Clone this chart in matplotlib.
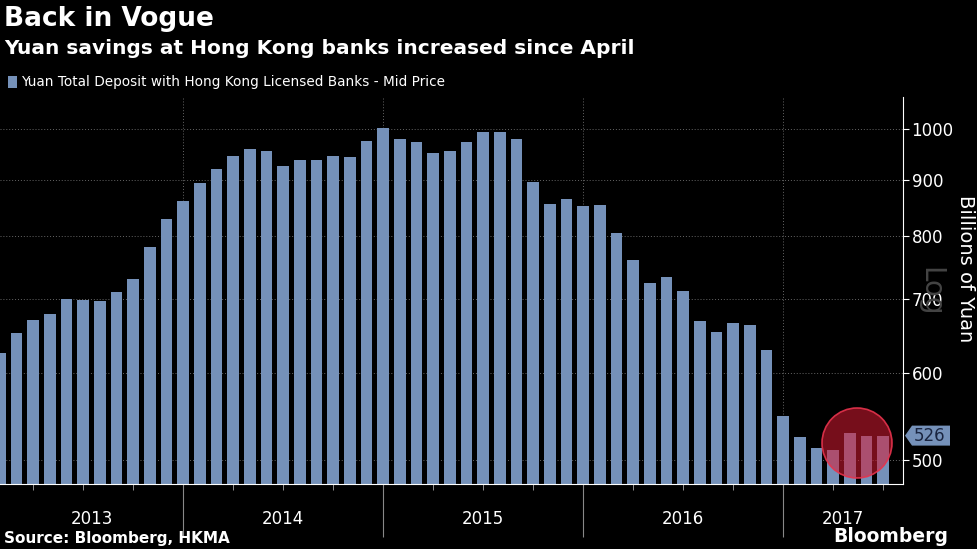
import matplotlib
matplotlib.use("Agg")
import matplotlib.pyplot as plt
from matplotlib.patches import Circle, Polygon
import numpy as np

values = [625, 653, 670, 679, 700, 699, 697, 711, 730, 782, 828, 861,
          894, 921, 945, 959, 956, 926, 937, 937, 945, 943, 976, 1004,
          981, 974, 952, 955, 974, 994, 994, 980, 896, 855, 865, 852,
          853, 805, 760, 725, 733, 712, 669, 654, 666, 664, 629, 548,
          524, 513, 510, 529, 526, 526]
years = ["2013", "2014", "2015", "2016", "2017"]
yticks = [500, 600, 700, 800, 900, 1000]
last_value = 526

BAR = "#7591b9"
fig = plt.figure(figsize=(9.77, 5.49), dpi=100, facecolor="black")
ax = fig.add_axes([0.0, 0.118, 0.9245, 0.705], facecolor="black")
x = np.arange(len(values))
ax.bar(x, values, width=0.7, color=BAR, zorder=2)
ax.set_yscale("log")
ax.set_ylim(475, 1070)
ax.set_xlim(0, 54.2)
ax.yaxis.tick_right()
ax.set_yticks(yticks)
ax.set_yticklabels([str(v) for v in yticks], color="white", fontsize=12)
ax.yaxis.set_minor_locator(matplotlib.ticker.NullLocator())
ax.tick_params(axis="y", colors="white", length=4, pad=2, labelsize=12)
for v in yticks:
    ax.axhline(v, color="#666666", lw=0.7, ls=(0, (1, 2)), zorder=1)
bounds = [11, 23, 35, 47]
for b in bounds:
    ax.axvline(b, color="#666666", lw=0.7, ls=(0, (1, 2)), zorder=1)
ax.set_xticks(bounds)
ax.set_xticklabels([])
ax.tick_params(axis="x", which="major", length=38, color="#888888", width=0.8)
ax.set_xticks([2, 5, 8, 14, 17, 20, 26, 29, 32, 38, 41, 44, 50, 53], minor=True)
ax.tick_params(axis="x", which="minor", length=4, color="#aaaaaa")
edges = [0] + bounds + [54.2]
for i, yr in enumerate(years):
    ax.text((edges[i] + edges[i + 1]) / 2, -0.09, yr, transform=ax.get_xaxis_transform(),
            ha="center", va="center", color="white", fontsize=12)
for s in ["top", "left"]:
    ax.spines[s].set_visible(False)
ax.spines["bottom"].set_color("white")
ax.spines["right"].set_color("white")

# highlight circle (pixel space)
circ = Circle((857, 549 - 443), 35, transform=None, facecolor=(0.85, 0.1, 0.2, 0.55),
              edgecolor=(0.9, 0.2, 0.3, 0.9), lw=1.2, zorder=5)
fig.patches.append(circ)

# last value tag
ty = ax.transData.transform((0, last_value))[1] / 549
tag = Polygon([[905/977, ty], [912/977, ty + 10/549], [950/977, ty + 10/549],
               [950/977, ty - 10/549], [912/977, ty - 10/549]], closed=True,
              transform=fig.transFigure, facecolor=BAR, edgecolor="none")
fig.patches.append(tag)
fig.text(930/977, ty, str(last_value), ha="center", va="center", fontsize=12, color="#1a2540")

fig.text(930/977, 1 - 292/549, "Log", rotation=-90, ha="center", va="center", fontsize=20,
         color="#444444", zorder=0)
fig.text(966/977, 0.51, "Billions of Yuan", rotation=-90, ha="center", va="center",
         fontsize=14, color="white")

fig.text(0.004, 0.965, "Back in Vogue", fontsize=19, fontweight="bold", color="white", va="center")
fig.text(0.004, 0.912, "Yuan savings at Hong Kong banks increased since April", fontsize=14.5,
         fontweight="bold", color="white", va="center")
fig.patches.append(plt.Rectangle((8/977, 1 - 88/549), 9/977, 12/549, transform=fig.transFigure,
                                 facecolor=BAR))
fig.text(21/977, 1 - 82/549, "Yuan Total Deposit with Hong Kong Licensed Banks - Mid Price",
         fontsize=9.8, color="white", va="center")
fig.text(0.004, 1 - 538/549, "Source: Bloomberg, HKMA", fontsize=11, fontweight="bold",
         color="white", va="center")
fig.text(948/977, 1 - 537/549, "Bloomberg", fontsize=13.5, fontweight="bold", color="white",
         va="center", ha="right")
fig.savefig("out.png", dpi=100, facecolor="black")
